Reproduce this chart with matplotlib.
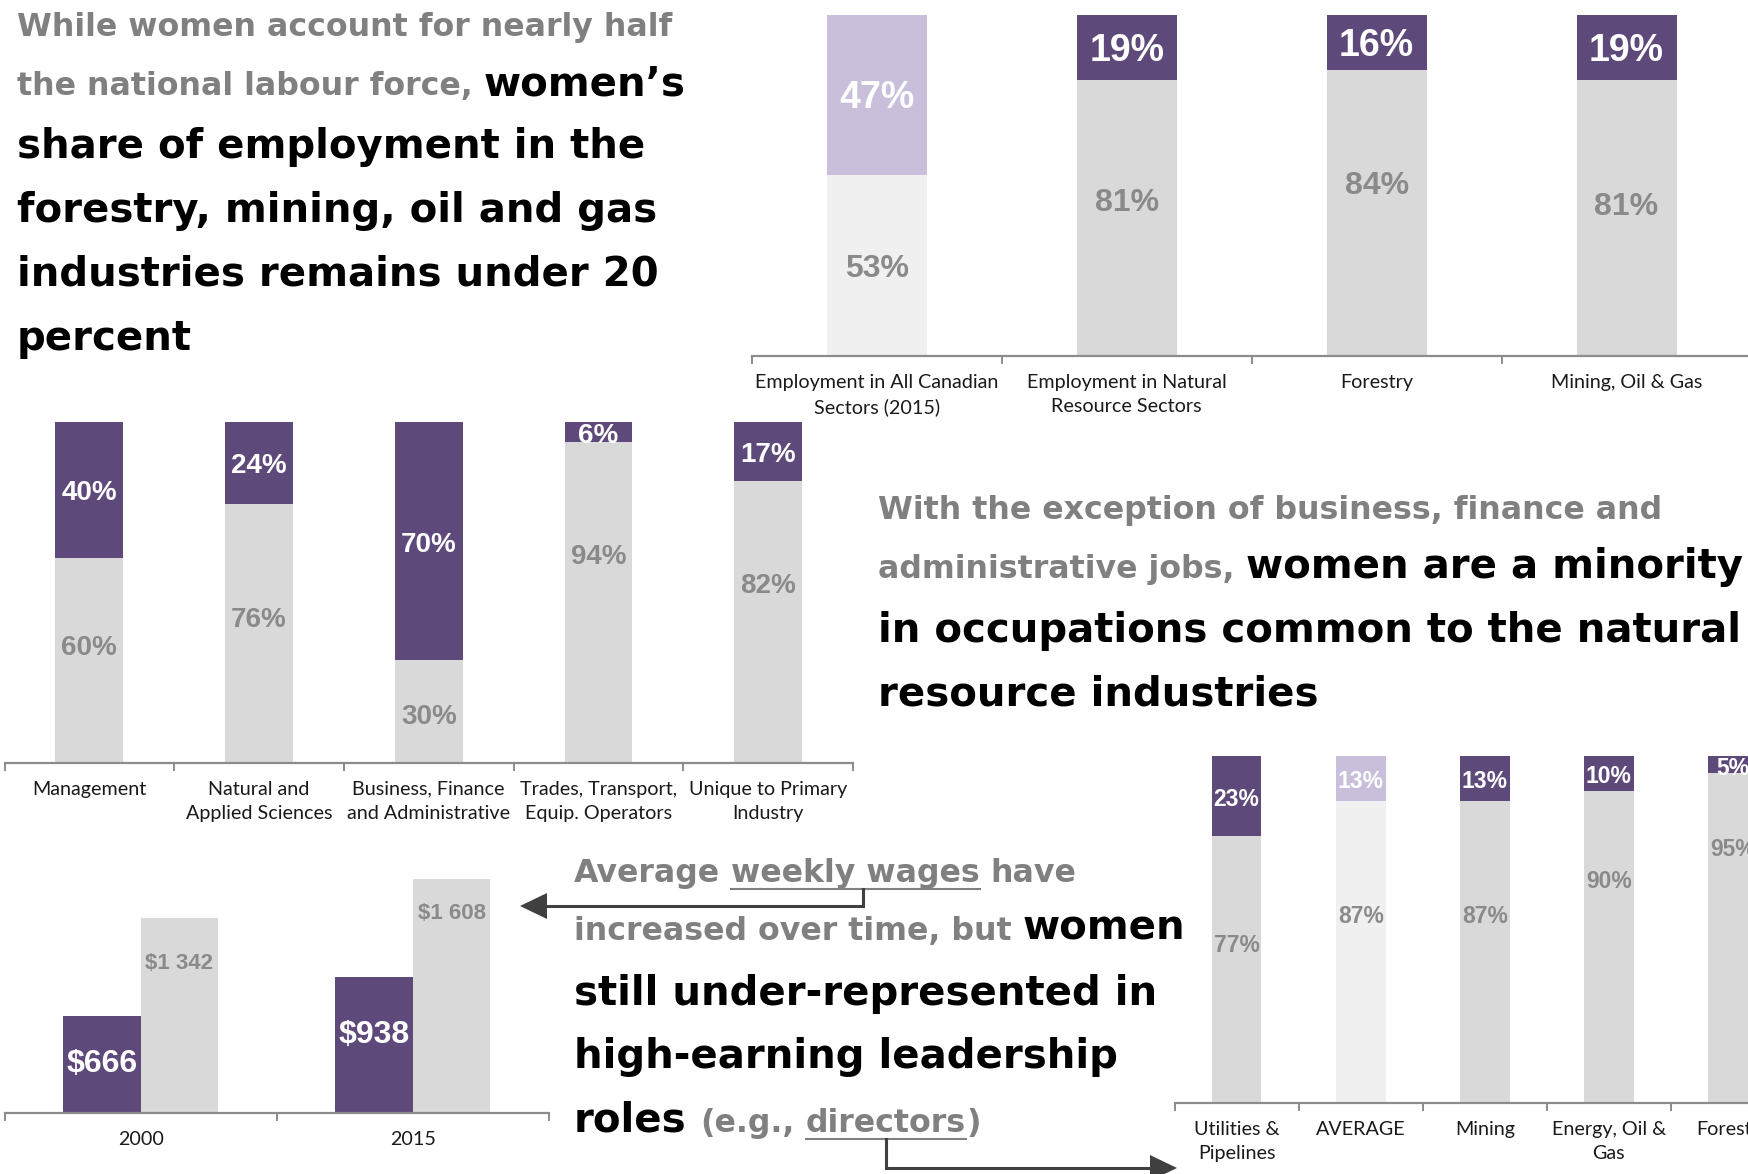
import matplotlib
matplotlib.use("Agg")
import matplotlib.pyplot as plt
from matplotlib.lines import Line2D
from matplotlib.patches import Polygon
from matplotlib.transforms import offset_copy
import numpy as np

# ---------------- data ----------------
sector_labels = ["Employment in All Canadian\nSectors (2015)", "Employment in Natural\nResource Sectors",
                 "Forestry", "Mining, Oil & Gas"]
sector_men = [53, 81, 84, 81]
sector_women = [47, 19, 16, 19]

occupation_labels = ["Management", "Natural and\nApplied Sciences", "Business, Finance\nand Administrative",
                     "Trades, Transport,\nEquip. Operators", "Unique to Primary\nIndustry"]
occupation_men = [60, 76, 30, 94, 82.7]
occupation_women = [40, 24, 70, 6, 17.3]

leadership_labels = ["Utilities &\nPipelines", "AVERAGE", "Mining", "Energy, Oil &\nGas", "Forestry"]
leadership_men = [77, 87, 87, 90, 95]
leadership_women = [23, 13, 13, 10, 5]

wage_years = ["2000", "2015"]
wage_women = [666, 938]
wage_men = [1342, 1608]

# ---------------- layout / style ----------------
W, H, DPI = 1749, 1174, 100
PURPLE = "#5e4a7a"
LPURPLE = "#c9bfdb"
GREY = "#d9d9d9"
LGREY = "#f0f0f0"
LABEL_GREY = "#8a8a8a"
AXIS = "#8c8c8c"
TEXT_GREY = "#808080"
ARROW = "#404040"
CAT_FONT = "Lato"
NUM_FONT = "Liberation Sans"

# vertical placement of the grey (men) labels, in axis data units
sector_men_label_y = [26.5, 45.7, 50.8, 44.8]
occupation_men_label_y = [34.5, 43, 14.5, 61.3, 52.7]
leadership_men_label_y = [46.5, 54.7, 54.7, 64.8, 73.9]
wage_women_label_y = [361, 560]
wage_men_label_y = [1052, 1391]

fig = plt.figure(figsize=(W / DPI, H / DPI), dpi=DPI)
fig.patch.set_facecolor("white")


def px_rect(left, top, right, bottom):
    return [left / W, 1 - bottom / H, (right - left) / W, (bottom - top) / H]


def style_axis(ax, labels, n, fs=14.2):
    ax.set_xlim(-0.5, n - 0.5)
    for s in ["top", "right", "left"]:
        ax.spines[s].set_visible(False)
    ax.spines["bottom"].set_color(AXIS)
    ax.spines["bottom"].set_linewidth(1.6)
    ax.set_yticks([])
    ax.set_xticks(range(n))
    ax.set_xticklabels(labels, fontsize=fs, family=CAT_FONT, color="#1a1a1a", linespacing=1.5)
    ax.tick_params(axis="x", which="major", length=0, pad=13)
    ax.set_xticks(np.arange(n + 1) - 0.5, minor=True)
    ax.tick_params(axis="x", which="minor", length=6, width=1.4, color=AXIS)
    ax.patch.set_alpha(0)


def label_tr(ax):
    return offset_copy(ax.transData, fig=fig, y=-2.4, units="points")


def stacked(rect, labels, men, women, light, men_y, fs_w, fs_m):
    ax = fig.add_axes(px_rect(*rect))
    n = len(labels)
    x = np.arange(n)
    men_c = [LGREY if i in light else GREY for i in range(n)]
    wom_c = [LPURPLE if i in light else PURPLE for i in range(n)]
    ax.bar(x, men, 0.4, color=men_c, linewidth=0)
    ax.bar(x, women, 0.4, bottom=men, color=wom_c, linewidth=0)
    tr = label_tr(ax)
    for i in range(n):
        ax.text(i, men[i] + women[i] / 2, f"{int(women[i])}%", ha="center", va="center",
                color="white", fontsize=fs_w, fontweight="bold", family=NUM_FONT, transform=tr)
        ax.text(i, men_y[i], f"{int(men[i])}%", ha="center", va="center",
                color=LABEL_GREY, fontsize=fs_m, fontweight="bold", family=NUM_FONT, transform=tr)
    ax.set_ylim(0, 100)
    style_axis(ax, labels, n)
    return ax


# chart A: sectors
stacked((752, 15, 1751.5, 356), sector_labels, sector_men, sector_women, [0],
        sector_men_label_y, 27, 23)
# chart B: occupations
stacked((4.5, 422, 853, 762.7), occupation_labels, occupation_men, occupation_women, [],
        occupation_men_label_y, 20, 20)
# chart C: leadership
stacked((1174.6, 756, 1795, 1103.3), leadership_labels, leadership_men, leadership_women, [1],
        leadership_men_label_y, 16.5, 16.5)

# chart D: wages
axd = fig.add_axes(px_rect(4.5, 851, 548.8, 1113.3))
xd = np.arange(len(wage_years))
off = 0.1425
axd.bar(xd - off, wage_women, 0.285, color=PURPLE, linewidth=0)
axd.bar(xd + off, wage_men, 0.285, color=GREY, linewidth=0)
trd = label_tr(axd)
for i in range(len(wage_years)):
    axd.text(i - off, wage_women_label_y[i], f"${wage_women[i]:,}".replace(",", " "), ha="center",
             va="center", color="white", fontsize=23, fontweight="bold", family=NUM_FONT, transform=trd)
    axd.text(i + off, wage_men_label_y[i], f"${wage_men[i]:,}".replace(",", " "), ha="center",
             va="center", color=LABEL_GREY, fontsize=16, fontweight="bold", family=NUM_FONT, transform=trd)
axd.set_ylim(0, 1800)
style_axis(axd, wage_years, len(wage_years))

# ---------------- text blocks ----------------
renderer = fig.canvas.get_renderer()
STYLES = {
    "G": dict(fontsize=22.8, fontweight="bold", family="DejaVu Sans", color=TEXT_GREY),
    "B": dict(fontsize=29, fontweight="bold", family="DejaVu Sans", color="black"),
}


def text_w(s, style):
    t = fig.text(0, 0, s, **STYLES[style])
    w = t.get_window_extent(renderer).width
    t.remove()
    return w


SPACE = {k: text_w("a a", k) - text_w("aa", k) for k in STYLES}


def draw_lines(x0, baselines, lines):
    marks = {}
    for y, tokens in zip(baselines, lines):
        x = x0
        for txt, style, ul, sp in tokens:
            t = fig.text(x / W, 1 - y / H, txt, ha="left", va="baseline", **STYLES[style])
            bb = t.get_window_extent(renderer)
            if ul:
                fig.add_artist(Line2D([bb.x0 / W, bb.x1 / W], [1 - (y + 7) / H] * 2,
                                      transform=fig.transFigure, color=TEXT_GREY, lw=1.5))
                marks[txt] = ((bb.x0 + bb.x1) / 2, y + 7)
            x += bb.width
            if sp:
                x += SPACE[style]
    return marks


draw_lines(17, [36, 95, 158, 222, 285, 350], [
    [("While women account for nearly half", "G", False, False)],
    [("the national labour force,", "G", False, True), ("women’s", "B", False, False)],
    [("share of employment in the", "B", False, False)],
    [("forestry, mining, oil and gas", "B", False, False)],
    [("industries remains under 20", "B", False, False)],
    [("percent", "B", False, False)],
])

draw_lines(878, [519, 578, 642, 705], [
    [("With the exception of business, finance and", "G", False, False)],
    [("administrative jobs,", "G", False, True), ("women are a minority", "B", False, False)],
    [("in occupations common to the natural", "B", False, False)],
    [("resource industries", "B", False, False)],
])

marks = draw_lines(574, [882, 940, 1005, 1068, 1132], [
    [("Average", "G", False, True), ("weekly wages", "G", True, True), ("have", "G", False, False)],
    [("increased over time, but", "G", False, True), ("women", "B", False, False)],
    [("still under-represented in", "B", False, False)],
    [("high-earning leadership", "B", False, False)],
    [("roles", "B", False, True), ("(e.g.,", "G", False, True), ("directors", "G", True, False),
     (")", "G", False, False)],
])


def fx(x):
    return x / W


def fy(y):
    return 1 - y / H


# arrow 1: from "weekly wages" to wage chart
cx, uy = marks["weekly wages"]
cx += 8
fig.add_artist(Line2D([fx(cx), fx(cx), fx(545)], [fy(uy), fy(906), fy(906)],
                      transform=fig.transFigure, color=ARROW, lw=2.2, solid_joinstyle="miter"))
fig.add_artist(Polygon([[fx(520), fy(906)], [fx(547), fy(893)], [fx(547), fy(919)]],
                       closed=True, transform=fig.transFigure, color=ARROW, lw=0))

# arrow 2: from "directors" to leadership chart
cx2, uy2 = marks["directors"]
fig.add_artist(Line2D([fx(cx2), fx(cx2), fx(1152)], [fy(uy2), fy(1168), fy(1168)],
                      transform=fig.transFigure, color=ARROW, lw=2.2, solid_joinstyle="miter"))
fig.add_artist(Polygon([[fx(1177), fy(1168)], [fx(1150), fy(1155)], [fx(1150), fy(1181)]],
                       closed=True, transform=fig.transFigure, color=ARROW, lw=0))

fig.savefig("out.png", dpi=DPI, facecolor="white")
